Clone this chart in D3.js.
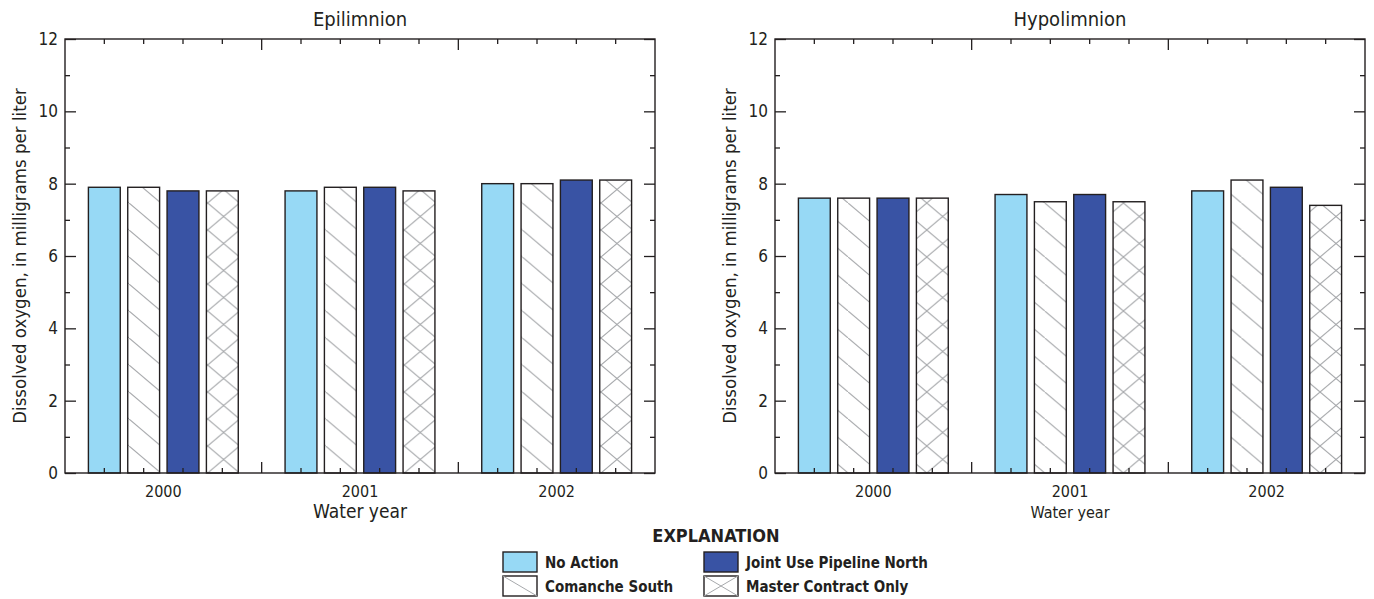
<!DOCTYPE html>
<html><head><meta charset="utf-8">
<script src="https://cdn.jsdelivr.net/npm/d3@7"></script>
<style>
body{margin:0;background:#fff;}
text{font-family:"Liberation Sans Narrow","DejaVu Sans Condensed",sans-serif;fill:#231f20;}
</style></head>
<body><svg id="c" width="1374" height="599"></svg>
<script>
const years = ["2000", "2001", "2002"];
const seriesNames = ["No Action", "Comanche South", "Joint Use Pipeline North", "Master Contract Only"];
const yTicks = [0, 2, 4, 6, 8, 10, 12];
// Epilimnion
const epiNoAction = [7.9, 7.8, 8.0];
const epiComanche = [7.9, 7.9, 8.0];
const epiJoint = [7.8, 7.9, 8.1];
const epiMaster = [7.8, 7.8, 8.1];
// Hypolimnion
const hypoNoAction = [7.6, 7.7, 7.8];
const hypoComanche = [7.6, 7.5, 8.1];
const hypoJoint = [7.6, 7.7, 7.9];
const hypoMaster = [7.6, 7.5, 7.4];

const svg = d3.select("#c");
const defs = svg.append("defs");
const hatchH = 27;
const hatchColor = "#a7a9ac";
const solidFills = ["#97d9f5", null, "#3953a4", null];
const stroke = "#231f20";

function makePattern(id, x, yb, w, kind) {
  const p = defs.append("pattern").attr("id", id).attr("patternUnits", "userSpaceOnUse")
    .attr("x", x).attr("y", yb).attr("width", w).attr("height", hatchH);
  p.append("rect").attr("width", w).attr("height", hatchH).attr("fill", "#fff");
  const d = kind === "diag" ? `M0,0L${w},${hatchH}` : `M0,0L${w},${hatchH}M0,${hatchH}L${w},0`;
  p.append("path").attr("d", d).attr("stroke", hatchColor).attr("stroke-width", 1.1).attr("fill", "none");
  return `url(#${id})`;
}

const plotTop = 39, plotBottom = 473, W = 590;
const y = d3.scaleLinear().domain([0, 12]).range([plotBottom, plotTop]);

function panel(key, x0, title, data, xLabelSize) {
  const g = svg.append("g").attr("transform", `translate(${x0},0)`);
  const xg = d3.scaleBand().domain(years).range([0, W]).padding(0);
  const xs = d3.scaleBand().domain(seriesNames).range([0, xg.bandwidth()]).paddingInner(0.19).paddingOuter(0.595);
  years.forEach((yr, i) => {
    g.selectAll(null).data(seriesNames).join("rect")
      .attr("x", s => xg(yr) + xs(s))
      .attr("y", (s, j) => y(data[j][i]))
      .attr("width", xs.bandwidth())
      .attr("height", (s, j) => y(0) - y(data[j][i]))
      .attr("fill", (s, j) => solidFills[j] || makePattern(`${key}-${i}-${j}`, x0 + xg(yr) + xs(s), plotBottom, xs.bandwidth(), j === 1 ? "diag" : "cross"))
      .attr("stroke", stroke).attr("stroke-width", 1.4);
  });
  g.append("rect").attr("x", 0).attr("y", plotTop).attr("width", W).attr("height", plotBottom - plotTop)
    .attr("fill", "none").attr("stroke", stroke).attr("stroke-width", 1.4);
  const ya = g.append("g").call(d3.axisLeft(y).tickValues(yTicks).tickSize(-11).tickPadding(7).tickFormat(d3.format("d")));
  ya.select(".domain").remove();
  ya.selectAll("line").attr("stroke", stroke).attr("stroke-width", 1.3);
  ya.selectAll("text").attr("font-size", 17).attr("font-family", null).attr("fill", "#231f20");
  const yMinor = d3.range(1, 12, 2);
  const ym = g.append("g").call(d3.axisLeft(y).tickValues(yMinor).tickSize(-5).tickFormat(""));
  ym.select(".domain").remove(); ym.selectAll("line").attr("stroke", stroke).attr("stroke-width", 1.3);
  const yr2 = g.append("g").attr("transform", `translate(${W},0)`).call(d3.axisRight(y).tickValues(yTicks).tickSize(-11).tickFormat(""));
  yr2.select(".domain").remove(); yr2.selectAll("line").attr("stroke", stroke).attr("stroke-width", 1.3);
  const yr3 = g.append("g").attr("transform", `translate(${W},0)`).call(d3.axisRight(y).tickValues(yMinor).tickSize(-5).tickFormat(""));
  yr3.select(".domain").remove(); yr3.selectAll("line").attr("stroke", stroke).attr("stroke-width", 1.3);
  const centers = [];
  years.forEach(yr => seriesNames.forEach(s => centers.push(xg(yr) + xs(s) + xs.bandwidth() / 2)));
  const bounds = years.slice(1).map(yr => xg(yr));
  [[plotTop, 1], [plotBottom, -1]].forEach(([yy, dir]) => {
    g.selectAll(null).data(centers).join("line").attr("x1", d => d).attr("x2", d => d)
      .attr("y1", yy).attr("y2", yy + dir * 5).attr("stroke", stroke).attr("stroke-width", 1.3);
    g.selectAll(null).data(bounds).join("line").attr("x1", d => d).attr("x2", d => d)
      .attr("y1", yy).attr("y2", yy + dir * 11).attr("stroke", stroke).attr("stroke-width", 1.3);
  });
  g.selectAll(null).data(years).join("text").attr("x", d => xg(d) + xg.bandwidth() / 2).attr("y", 497)
    .attr("text-anchor", "middle").attr("font-size", 16).text(d => d);
  g.append("text").attr("x", W / 2).attr("y", 518).attr("text-anchor", "middle").attr("font-size", xLabelSize).text("Water year");
  g.append("text").attr("x", W / 2).attr("y", 26).attr("text-anchor", "middle").attr("font-size", 20).text(title);
  g.append("text").attr("transform", `translate(-39,${(plotTop + plotBottom) / 2}) rotate(-90)`).attr("text-anchor", "middle")
    .attr("font-size", 18.5).text("Dissolved oxygen, in milligrams per liter");
}
panel("e", 65, "Epilimnion", [epiNoAction, epiComanche, epiJoint, epiMaster], 19);
panel("h", 775, "Hypolimnion", [hypoNoAction, hypoComanche, hypoJoint, hypoMaster], 16);

svg.append("text").attr("x", 716).attr("y", 542).attr("text-anchor", "middle").attr("font-size", 18).attr("font-weight", "bold").text("EXPLANATION");
const legPos = [[503, 552], [503, 576], [704, 552], [704, 576]];
const lg = svg.append("g");
seriesNames.forEach((s, j) => {
  const [lx, ly] = legPos[j];
  const w = 34, h = 20;
  lg.append("rect").attr("x", lx).attr("y", ly).attr("width", w).attr("height", h).attr("fill", solidFills[j] || "#fff")
    .attr("stroke", stroke).attr("stroke-width", 1.4);
  if (j === 1 || j === 3) lg.append("line").attr("x1", lx).attr("y1", ly).attr("x2", lx + w).attr("y2", ly + h).attr("stroke", hatchColor);
  if (j === 3) lg.append("line").attr("x1", lx).attr("y1", ly + h).attr("x2", lx + w).attr("y2", ly).attr("stroke", hatchColor);
  lg.append("text").attr("x", lx + 42).attr("y", ly + 16).attr("font-size", 15).attr("font-weight", "bold").text(s);
});
</script></body></html>
